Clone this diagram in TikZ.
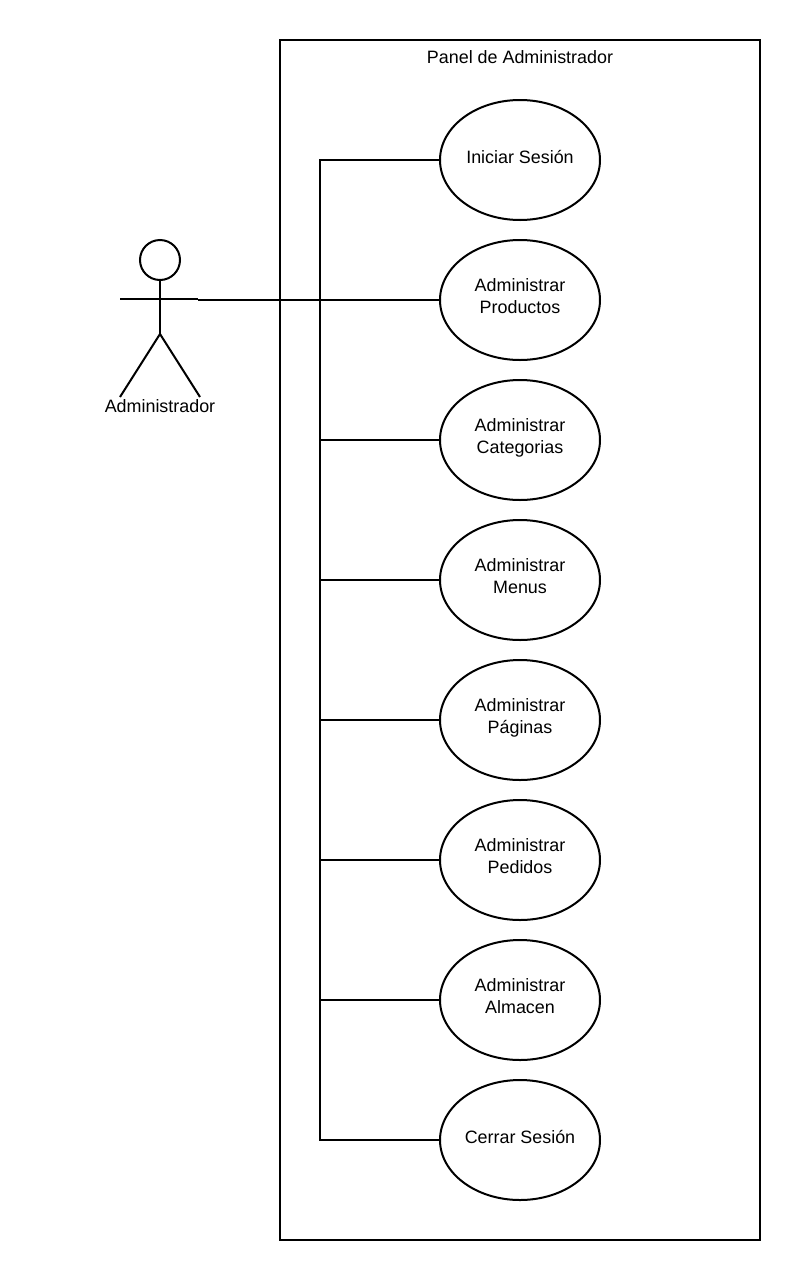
\documentclass[tikz,border=0pt]{standalone}
\usepackage{fontspec}
\setmainfont{Liberation Sans}
\usetikzlibrary{shapes.geometric}
\tikzset{
  x=1pt,y=-1pt,
  uc/.style={draw=black,line width=2pt,fill=white,ellipse,minimum width=160pt,minimum height=120pt,inner sep=0pt,outer sep=0pt,align=center,font=\fontsize{17.9}{22}\selectfont},
  ln/.style={draw=black,line width=2pt},
  lbl/.style={inner sep=0pt,font=\fontsize{17.9}{22}\selectfont}
}
\begin{document}
\begin{tikzpicture}
\useasboundingbox (0,0) rectangle (800,1280);
\fill[white] (0,0) rectangle (800,1280);
\node[draw=black,line width=2pt,minimum width=480pt,minimum height=1200pt,inner sep=0pt,outer sep=0pt] (panel) at (520,640) {};
\node[lbl] (title) at (520,57) {Panel de Administrador};
\coordinate (bus) at (320,160);
\coordinate (busend) at (320,1140);
\node[uc] (u1) at (520,160) {Iniciar Sesión\\[-16pt]\mbox{}};
\node[uc] (u2) at (520,300) {Administrar\\Productos\\[-14pt]\mbox{}};
\node[uc] (u3) at (520,440) {Administrar\\Categorias\\[-14pt]\mbox{}};
\node[uc] (u4) at (520,580) {Administrar\\Menus\\[-14pt]\mbox{}};
\node[uc] (u5) at (520,720) {Administrar\\Páginas\\[-14pt]\mbox{}};
\node[uc] (u6) at (520,860) {Administrar\\Pedidos\\[-14pt]\mbox{}};
\node[uc] (u7) at (520,1000) {Administrar\\Almacen\\[-14pt]\mbox{}};
\node[uc] (u8) at (520,1140) {Cerrar Sesión\\[-16pt]\mbox{}};
\node[draw=black,line width=2pt,circle,minimum size=40pt,inner sep=0pt,outer sep=0pt] (head) at (160,260) {};
\coordinate (armL) at (120,299);
\coordinate (armR) at (198,299);
\coordinate (hip) at (160,334);
\coordinate (footL) at (120,397);
\coordinate (footR) at (200,397);
\coordinate (conn) at (198,300);
\node[lbl] (actor) at (160,406) {Administrador};
\draw[ln] (head.south) -- (hip);
\draw[ln] (armL) -- (armR);
\draw[ln] (footL) -- (hip) -- (footR);
\draw[ln] (conn) -- (u2.west);
\draw[ln] (u1.west) -- (bus) -- (busend) -- (u8.west);
\draw[ln] (320,440) -- (u3.west);
\draw[ln] (320,580) -- (u4.west);
\draw[ln] (320,720) -- (u5.west);
\draw[ln] (320,860) -- (u6.west);
\draw[ln] (320,1000) -- (u7.west);
\end{tikzpicture}
\end{document}
